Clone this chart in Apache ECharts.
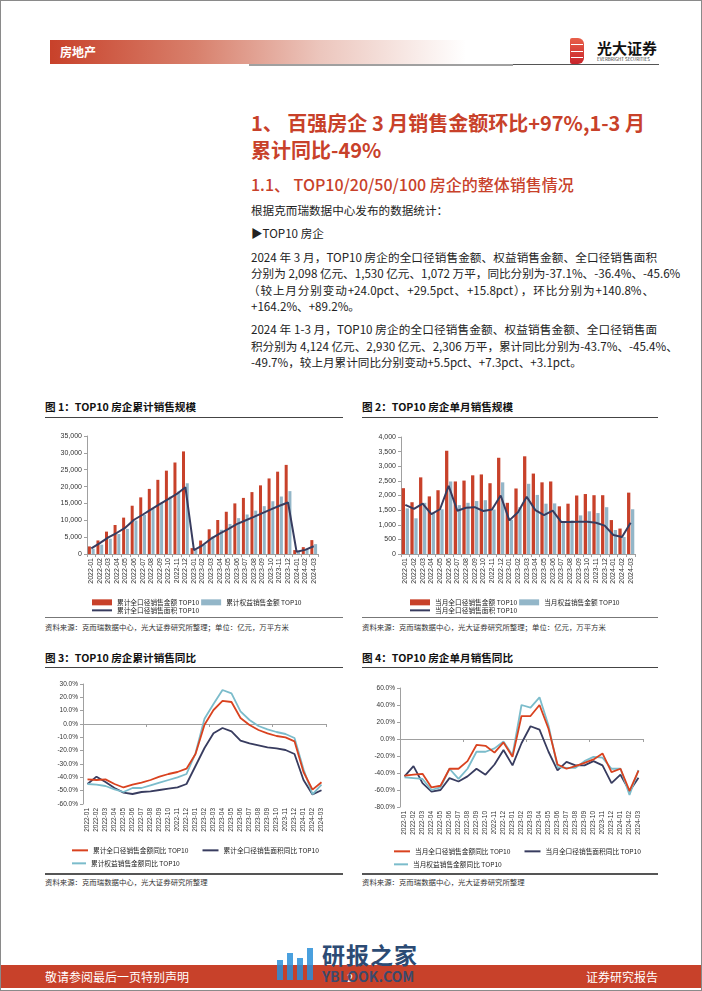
<!DOCTYPE html>
<html><head><meta charset="utf-8">
<script src="https://cdn.jsdelivr.net/npm/echarts/dist/echarts.min.js"></script>
<style>
html,body{margin:0;padding:0}
body{width:702px;height:991px;position:relative;background:#fff;font-family:"Noto Sans CJK SC","Noto Sans",sans-serif;overflow:hidden;color:#222}
.a{position:absolute;white-space:nowrap}
.frame{position:absolute;left:0;top:0;width:700px;height:989px;border:1px solid #8a8a8a}
.band{left:50px;top:40px;width:416px;height:24px;background:linear-gradient(to right,#c8412a 0%,#d8806c 35%,#ecc6bd 65%,#ffffff 100%)}
.t1{font-size:20px;font-weight:bold;color:#c8412a;line-height:24px}
.t2{font-size:16px;font-weight:500;color:#c8412a;line-height:20px}
.p{font-size:11.6px;line-height:16px;color:#222}
.j{width:406px;text-align:justify;text-align-last:justify}
.ft{font-size:10.6px;font-weight:bold;line-height:14px;color:#111}
.src{font-size:7.4px;line-height:10px;color:#333}
.rule{height:1px;background:#444}
.ch{position:absolute}
</style></head>
<body>
<div class="frame"></div>
<!-- header -->
<div class="a band"></div>
<div class="a" style="left:60px;top:43px;font-size:12px;line-height:18px;color:#fff;font-weight:bold">房地产</div>
<div class="a" style="left:249px;top:64px;width:264px;height:2px;background:#a0a0a0"></div>
<div class="a" style="left:513px;top:64px;width:146px;height:1px;background:#555"></div>
<div class="a" style="left:570px;top:38px;width:14px;height:26px;border-radius:2px 6px 6px 2px;background:linear-gradient(to bottom,#e8604a,#c8232a)"></div>
<div class="a" style="left:571px;top:44px;width:12px;height:1px;background:#fff"></div>
<div class="a" style="left:571px;top:51px;width:12px;height:1px;background:#fff"></div>
<div class="a" style="left:571px;top:57px;width:12px;height:1px;background:#fff"></div>
<div class="a" style="left:597px;top:39px;font-size:15px;font-weight:bold;line-height:18px;color:#111">光大证券</div>
<div class="a" style="left:597px;top:57px;font-size:4.5px;line-height:5px;color:#333">EVERBRIGHT SECURITIES</div>

<!-- titles -->
<div class="a t1" style="left:251px;top:111px">1、 百强房企 3 月销售金额环比+97%,1-3 月</div>
<div class="a t1" style="left:251px;top:138px">累计同比-49%</div>
<div class="a t2" style="left:251px;top:174px">1.1、 TOP10/20/50/100 房企的整体销售情况</div>

<div class="a p" style="left:251px;top:202px">根据克而瑞数据中心发布的数据统计：</div>
<div class="a p" style="left:251px;top:225px">▶TOP10 房企</div>
<div class="a p j" style="left:251px;top:249px">2024 年 3 月，TOP10 房企的全口径销售金额、权益销售金额、全口径销售面积</div>
<div class="a p j" style="left:251px;top:265px">分别为 2,098 亿元、1,530 亿元、1,072 万平，同比分别为-37.1%、-36.4%、-45.6%</div>
<div class="a p j" style="left:248px;top:282px">（较上月分别变动+24.0pct、+29.5pct、+15.8pct），环比分别为+140.8%、</div>
<div class="a p" style="left:251px;top:298px">+164.2%、+89.2%。</div>
<div class="a p j" style="left:251px;top:321px">2024 年 1-3 月，TOP10 房企的全口径销售金额、权益销售金额、全口径销售面</div>
<div class="a p j" style="left:251px;top:338px">积分别为 4,124 亿元、2,930 亿元、2,306 万平，累计同比分别为-43.7%、-45.4%、</div>
<div class="a p" style="left:251px;top:354px">-49.7%，较上月累计同比分别变动+5.5pct、+7.3pct、+3.1pct。</div>

<!-- figure titles -->
<div class="a ft" style="left:45px;top:400px">图 1：TOP10 房企累计销售规模</div>
<div class="a rule" style="left:45px;top:417px;width:298px"></div>
<div class="a ft" style="left:362px;top:400px">图 2：TOP10 房企单月销售规模</div>
<div class="a rule" style="left:362px;top:417px;width:296px"></div>
<div class="a rule" style="left:45px;top:617px;width:298px;background:#777"></div>
<div class="a rule" style="left:362px;top:617px;width:296px;background:#777"></div>
<div class="a src" style="left:45px;top:622px">资料来源：克而瑞数据中心，光大证券研究所整理；单位：亿元，万平方米</div>
<div class="a src" style="left:362px;top:622px">资料来源：克而瑞数据中心，光大证券研究所整理；单位：亿元，万平方米</div>

<div class="a ft" style="left:45px;top:651px">图 3：TOP10 房企累计销售同比</div>
<div class="a rule" style="left:45px;top:667px;width:298px"></div>
<div class="a ft" style="left:362px;top:651px">图 4：TOP10 房企单月销售同比</div>
<div class="a rule" style="left:362px;top:667px;width:296px"></div>
<div class="a rule" style="left:45px;top:873px;width:298px;height:2px;background:#555"></div>
<div class="a rule" style="left:362px;top:873px;width:296px;height:2px;background:#555"></div>
<div class="a src" style="left:45px;top:877px">资料来源：克而瑞数据中心，光大证券研究所整理</div>
<div class="a src" style="left:362px;top:877px">资料来源：克而瑞数据中心，光大证券研究所整理</div>

<div id="c1" class="ch" style="left:30px;top:425px;width:300px;height:190px"></div>
<div id="c2" class="ch" style="left:350px;top:425px;width:310px;height:190px"></div>
<div id="c3" class="ch" style="left:30px;top:675px;width:310px;height:196px"></div>
<div id="c4" class="ch" style="left:350px;top:675px;width:310px;height:196px"></div>

<!-- footer -->
<div class="a" style="left:1px;top:965px;width:700px;height:23px;background:#c8412a"></div>
<div class="a" style="left:45px;top:969px;font-size:12px;line-height:16px;color:#fff">敬请参阅最后一页特别声明</div>
<div class="a" style="left:586px;top:969px;font-size:12px;line-height:16px;color:#fff">证券研究报告</div>
<div class="a" style="left:347px;top:969px;font-size:11px;line-height:16px;color:#fff">2</div>
<!-- watermark -->
<div class="a" style="left:277px;top:960px;width:6px;height:20px;background:#2a8fd8;opacity:.85"></div>
<div class="a" style="left:287px;top:953px;width:6px;height:27px;background:#2a8fd8;opacity:.85"></div>
<div class="a" style="left:297px;top:958px;width:6px;height:22px;background:#2a8fd8;opacity:.85"></div>
<div class="a" style="left:307px;top:948px;width:6px;height:32px;background:#2a8fd8;opacity:.85"></div>
<div class="a" style="left:322px;top:940px;font-size:23px;font-weight:bold;line-height:28px;color:#2c4b74;letter-spacing:1px">研报之家</div>
<div class="a" style="left:322px;top:967px;font-size:14px;font-weight:bold;line-height:18px;color:#2c4b74;opacity:.9">YBLOOK.COM</div>

<script>
// ---------------- data ----------------
const categories = ['2022-01','2022-02','2022-03','2022-04','2022-05','2022-06','2022-07','2022-08','2022-09','2022-10','2022-11','2022-12',
  '2023-01','2023-02','2023-03','2023-04','2023-05','2023-06','2023-07','2023-08','2023-09','2023-10','2023-11','2023-12',
  '2024-01','2024-02','2024-03'];

// Fig 1: cumulative (亿元 / 万平方米)
const cumAmount = [2250,4020,6640,8610,10790,14320,16800,19310,22000,24720,27140,30430,
  1750,3990,7330,10080,12530,15010,16640,18360,20360,22410,24420,26430, 1160,2030,4124];
const cumEquity = [1560,2780,4530,5930,7460,9940,11610,13360,15170,17010,18530,20980,
  1170,2770,5170,7190,8910,10640,11720,12870,14190,15650,17050,18650, 820,1400,2930];
const cumArea = [1680,3220,4940,6300,7830,10160,11640,13220,14820,16290,17810,19810,
  1150,2580,4540,6040,7370,8850,9940,11030,12130,13230,14300,15270, 650,1230,2306];

// Fig 2: monthly
const monAmount = [2250,1770,2620,1970,2180,3530,2480,2510,2690,2720,2420,3290,
  1750,2240,3340,2750,2450,2480,1630,1720,2000,2050,2010,2010, 1160,870,2098];
const monEquity = [1560,1220,1750,1400,1530,2480,1670,1750,1810,1840,1520,2450,
  1170,1600,2400,2020,1720,1730,1080,1150,1320,1460,1400,1600, 820,580,1530];
const monArea = [1680,1540,1720,1360,1530,2330,1480,1580,1600,1470,1520,2000,
  1150,1430,1960,1500,1330,1480,1090,1090,1100,1100,1070,970, 650,580,1072];

// Fig 3: cumulative YoY (%)
const cumYoyAmount = [-41.5,-42,-41.5,-45,-47.6,-45.5,-44,-42,-39.5,-37.5,-36,-33.5,
  -22.5,-0.5,10.5,17.3,16.5,4.5,-0.8,-4.5,-7,-9,-10,-13, -36,-49.2,-43.7];
const cumYoyArea = [-45,-39.5,-43.5,-48,-51.5,-52.5,-51,-50.5,-49.5,-48.5,-47.5,-45,
  -31.5,-18,-7,-3,-5.5,-12.5,-14.5,-16,-17.5,-18.3,-19.5,-22.5, -42,-52.8,-49.7];
const cumYoyEquity = [-45,-45.5,-46.5,-49,-51,-48,-48,-46,-44,-42,-40,-37.5,
  -22,4,15,25.5,23,9.5,3,-1.5,-4,-6,-7.5,-10.5, -34,-52.7,-45.4];

// Fig 4: monthly YoY (%)
const monYoyAmount = [-43,-42,-41,-57,-55,-35,-35,-26,-7,-8,-16,-4,
  -21,27,27,40,12,-30,-35,-32,-28,-24,-17,-39, -35,-61.1,-37.1];
const monYoyArea = [-44,-32,-52,-62,-60,-46,-50,-44,-35,-42,-30,-13,
  -31,-5,15,11,-15,-37,-27,-31,-31,-26,-31,-52, -42,-61.4,-45.6];
const monYoyEquity = [-45,-46,-47,-60,-57,-35,-47,-35,-15,-15,-11,-3,
  -19,40,37,49,16,-33,-34,-34,-26,-21,-22,-35, -35,-65.9,-36.4];

// ---------------- styles ----------------
const RED = '#c8412a', LBLUE = '#93b6c8', DARK = '#383c5f', LRED = '#d9421f', TEAL = '#7bbccb';
const AX = '#a0a0a0', LAB = '#333';
const LATIN = 'Liberation Sans, Arial, sans-serif';
const LEGFONT = {fontSize:6.7, color:'#222', fontFamily:'"Noto Sans CJK SC", sans-serif'};
const thousands = v => String(v).replace(/\B(?=(\d{3})+(?!\d))/g, ',');

function catAxis(fs, extra) {
  return Object.assign({
    type:'category', data:categories, boundaryGap:true,
    axisLine:{show:true, lineStyle:{color:AX, width:1}},
    axisTick:{show:true, length:3, lineStyle:{color:AX}},
    axisLabel:{rotate:90, fontSize:fs, color:LAB, fontFamily:LATIN, margin:4, interval:0},
    splitLine:{show:false}
  }, extra || {});
}
function valAxis(min, max, interval, fmt, fs) {
  return {type:'value', min:min, max:max, interval:interval,
    axisLine:{show:true, lineStyle:{color:AX}},
    axisTick:{show:true, length:3, lineStyle:{color:AX}},
    axisLabel:{fontSize:fs, color:LAB, fontFamily:LATIN, margin:5, formatter:fmt},
    splitLine:{show:false}};
}

// ---------------- chart 1 ----------------
const c1 = echarts.init(document.getElementById('c1'), null, {renderer:'canvas'});
c1.setOption({
  animation:false,
  grid:{left:57, top:11, width:231, height:118},
  xAxis:catAxis(7),
  yAxis:valAxis(0, 35000, 5000, thousands, 7),
  legend:[
    {data:[{name:'累计全口径销售金额 TOP10', icon:'rect'},{name:'累计权益销售金额 TOP10', icon:'rect'}],
     left:57, top:169, itemWidth:20, itemHeight:6, itemGap:2, textStyle:LEGFONT},
    {data:[{name:'累计全口径销售面积 TOP10', icon:'rect'}], left:57, top:177, itemWidth:20, itemHeight:2, textStyle:LEGFONT}
  ],
  series:[
    {name:'累计全口径销售金额 TOP10', type:'bar', data:cumAmount, barWidth:3, barGap:'25%', itemStyle:{color:RED}},
    {name:'累计权益销售金额 TOP10', type:'bar', data:cumEquity, barWidth:3, itemStyle:{color:LBLUE}},
    {name:'累计全口径销售面积 TOP10', type:'line', data:cumArea, symbol:'none', lineStyle:{color:DARK, width:2}, itemStyle:{color:DARK}}
  ]
});

// ---------------- chart 2 ----------------
const c2 = echarts.init(document.getElementById('c2'), null, {renderer:'canvas'});
c2.setOption({
  animation:false,
  grid:{left:51, top:12, width:234, height:117},
  xAxis:catAxis(7),
  yAxis:valAxis(0, 4000, 500, thousands, 7),
  legend:[
    {data:[{name:'当月全口径销售金额 TOP10', icon:'rect'},{name:'当月权益销售金额 TOP10', icon:'rect'}],
     left:55, top:169, itemWidth:20, itemHeight:6, itemGap:2, textStyle:LEGFONT},
    {data:[{name:'当月全口径销售面积 TOP10', icon:'rect'}], left:55, top:177, itemWidth:20, itemHeight:2, textStyle:LEGFONT}
  ],
  series:[
    {name:'当月全口径销售金额 TOP10', type:'bar', data:monAmount, barWidth:3.3, barGap:'20%', itemStyle:{color:RED}},
    {name:'当月权益销售金额 TOP10', type:'bar', data:monEquity, barWidth:3.3, itemStyle:{color:LBLUE}},
    {name:'当月全口径销售面积 TOP10', type:'line', data:monArea, symbol:'none', lineStyle:{color:DARK, width:2}, itemStyle:{color:DARK}}
  ]
});

// ---------------- chart 3 / 4 ----------------
const pct = v => v.toFixed(1) + '%';
function yoyChart(el, grid, ymin, ymax, yint, names, datas, legLeft, legGap, legTop) {
  const ch = echarts.init(document.getElementById(el), null, {renderer:'canvas'});
  const colors = [LRED, DARK, TEAL];
  ch.setOption({
    animation:false,
    grid:grid,
    xAxis:[
      catAxis(6.5, {axisLine:{show:false, onZero:false}, axisTick:{show:false}}),
      catAxis(6.5, {axisLine:{show:true, onZero:true, lineStyle:{color:AX}}, axisTick:{show:true, inside:true, length:3, lineStyle:{color:AX}}, axisLabel:{show:false}})
    ],
    yAxis:valAxis(ymin, ymax, yint, pct, 6.5),
    legend:[
      {data:[{name:names[0], icon:'rect'}, {name:names[1], icon:'rect'}], left:legLeft, top:legTop, itemWidth:16, itemHeight:2, itemGap:legGap, textStyle:LEGFONT},
      {data:[{name:names[2], icon:'rect'}], left:legLeft, top:legTop + 13, itemWidth:14, itemHeight:2, textStyle:LEGFONT}
    ],
    series:names.map((n, i) => ({
      name:n, type:'line', data:datas[i], xAxisIndex:0, symbol:'none',
      lineStyle:{color:colors[i], width:1.8}, itemStyle:{color:colors[i]}, z: i === 0 ? 4 : 3
    }))
  });
}
yoyChart('c3', {left:53, top:9, width:243, height:120}, -60, 30, 10,
  ['累计全口径销售金额同比 TOP10','累计全口径销售面积同比 TOP10','累计权益销售金额同比 TOP10'],
  [cumYoyAmount, cumYoyArea, cumYoyEquity], 37, 14, 167);
yoyChart('c4', {left:50, top:13, width:243, height:119}, -80, 60, 20,
  ['当月全口径销售金额同比 TOP10','当月全口径销售面积同比 TOP10','当月权益销售金额同比 TOP10'],
  [monYoyAmount, monYoyArea, monYoyEquity], 39, 14, 168);
</script>
</body></html>
